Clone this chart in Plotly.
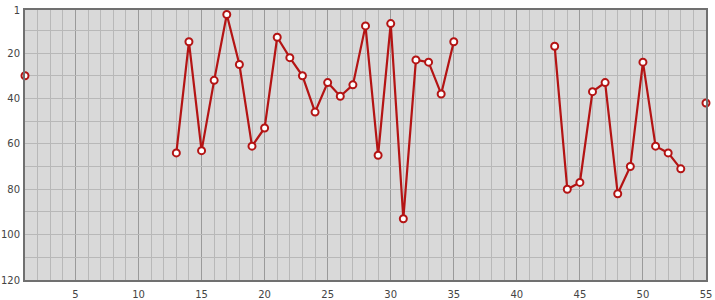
import plotly.graph_objects as go

x_vals = list(range(1, 56))
ranks = [30, None, None, None, None, None, None, None, None, None,
         None, None, 64, 15, 63, 32, 3, 25, 61, 53,
         13, 22, 30, 46, 33, 39, 34, 8, 65, 7,
         93, 23, 24, 38, 15, None, None, None, None, None,
         None, None, 17, 80, 77, 37, 33, 82, 70, 24,
         61, 64, 71, None, 42]

x_ticks = [5, 10, 15, 20, 25, 30, 35, 40, 45, 50, 55]
y_ticks = [1, 10, 20, 30, 40, 50, 60, 70, 80, 90, 100, 110, 120]
y_labels = ["1", "", "20", "", "40", "", "60", "", "80", "", "100", "", "120"]

fig = go.Figure()
fig.add_trace(go.Scatter(
    x=x_vals, y=ranks, mode="lines+markers", connectgaps=False,
    line=dict(color="#b41414", width=2.2),
    marker=dict(symbol="circle", size=7, color="white",
                line=dict(color="#b41414", width=2)),
    cliponaxis=False, hoverinfo="x+y",
))

fig.update_layout(
    width=715, height=300,
    margin=dict(l=25, r=9, t=10, b=20, autoexpand=False),
    paper_bgcolor="white", plot_bgcolor="#d9d9d9",
    showlegend=False,
    font=dict(family="DejaVu Sans", size=10, color="#444"),
)
fig.update_xaxes(
    range=[1, 55], tickmode="array", tickvals=x_ticks,
    showgrid=True, gridcolor="#9a9a9a", gridwidth=1,
    minor=dict(tickmode="array", tickvals=x_vals, showgrid=True,
               gridcolor="#b8b8b8", gridwidth=1, ticks=""),
    showline=True, linecolor="#707070", linewidth=2, mirror=True,
    ticks="", zeroline=False, ticklabelstandoff=4, automargin=False,
)
fig.update_yaxes(
    range=[120, 1], tickmode="array", tickvals=y_ticks, ticktext=y_labels,
    showgrid=True, gridcolor="#b8b8b8", gridwidth=1,
    showline=True, linecolor="#707070", linewidth=2, mirror=True,
    ticks="", zeroline=False, ticklabelstandoff=1, automargin=False,
)

fig.write_html("out.html")
